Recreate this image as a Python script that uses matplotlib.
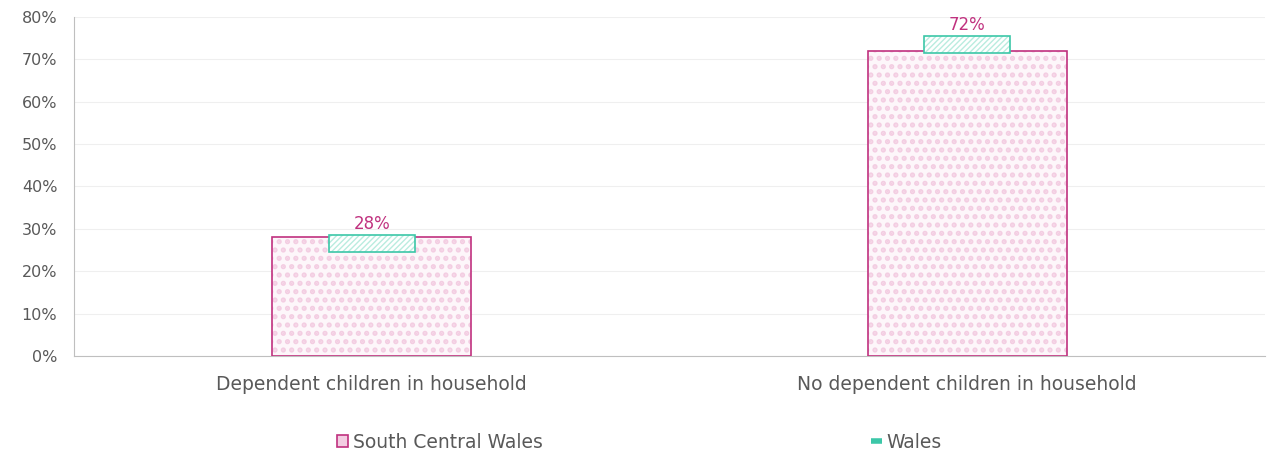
import numpy as np
import matplotlib.pyplot as plt
from matplotlib.patches import Patch
from matplotlib.lines import Line2D

plt.rcParams['font.family'] = ['DejaVu Sans']

categories = ['Dependent children in household', 'No dependent children in household']
south_central = [28, 72]
wales = [26.5, 73.5]
wales_box = 4.0   # height of the Wales marker box, in %
yticks = [0, 10, 20, 30, 40, 50, 60, 70, 80]

pink = '#c0317f'
pink_light = '#f3cde2'
teal = '#3cc7a8'
teal_light = '#b9ecdf'
grey = '#595959'

fig = plt.figure(figsize=(12.7, 4.54), dpi=100)
ax = fig.add_axes([0.0583, 0.2159, 0.9377, 0.7467])

x = np.arange(len(categories))

# South Central Wales bars: pattern layer then outline
plt.rcParams['hatch.linewidth'] = 2.5
ax.bar(x, south_central, width=0.334, color='#fdf6fa', edgecolor=pink_light,
       hatch='..', linewidth=0, zorder=2)
ax.bar(x, south_central, width=0.334, color='none', edgecolor=pink,
       linewidth=1.2, zorder=3)

# Wales marker boxes
plt.rcParams['hatch.linewidth'] = 1.0
bottoms = [w - wales_box / 2 for w in wales]
ax.bar(x, [wales_box] * len(x), bottom=bottoms, width=0.144, color='white',
       edgecolor=teal_light, hatch='//////', linewidth=0, zorder=4)
ax.bar(x, [wales_box] * len(x), bottom=bottoms, width=0.144, color='none',
       edgecolor=teal, linewidth=1.2, zorder=5)

# data labels
for xi, v, w in zip(x, south_central, wales):
    ax.text(xi, w + wales_box / 2 + 0.5, f'{v}%', ha='center', va='bottom',
            color=pink, fontsize=12, zorder=6)

ax.set_xlim(-0.5, 1.5)
ax.set_ylim(0, 80)
ax.set_yticks(yticks)
ax.set_yticklabels([f'{t}%' for t in yticks])
ax.set_xticks(x)
ax.set_xticklabels(categories)
ax.tick_params(axis='both', length=0, colors=grey)
ax.tick_params(axis='x', pad=14, labelsize=13.5)
ax.tick_params(axis='y', pad=12, labelsize=11.5)
ax.yaxis.grid(True, color='#efefef', linewidth=0.8, zorder=0)
ax.set_axisbelow(True)
for s in ['top', 'right']:
    ax.spines[s].set_visible(False)
ax.spines['left'].set_color('#bfbfbf')
ax.spines['bottom'].set_color('#bfbfbf')

handles = [
    Patch(facecolor=pink_light, edgecolor=pink, linewidth=1.2),
    Line2D([0], [0], color=teal, linewidth=4, solid_capstyle='butt'),
]
fig.legend(handles, ['South Central Wales', 'Wales'], loc='center',
           bbox_to_anchor=(0.5035, 0.026), ncol=2, frameon=False,
           fontsize=13.5, labelcolor=grey, handlelength=0.6, handleheight=0.6,
           handletextpad=0.25, columnspacing=17.5)

fig.savefig('out.png', dpi=100)
